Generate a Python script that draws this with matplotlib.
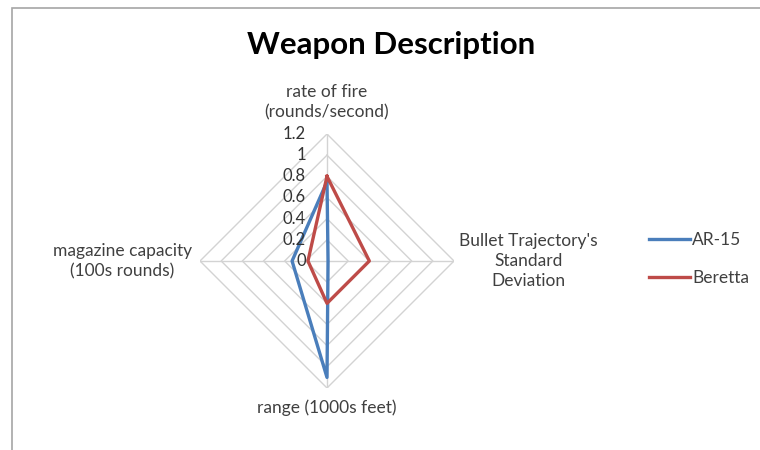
import numpy as np
import matplotlib
matplotlib.use("Agg")
import matplotlib.pyplot as plt
from matplotlib import transforms
from matplotlib.patches import Rectangle

plt.rcParams['font.family'] = ['Lato', 'DejaVu Sans']

# data
categories = ["rate of fire\n(rounds/second)",
              "Bullet Trajectory's\nStandard\nDeviation",
              "range (1000s feet)",
              "magazine capacity\n(100s rounds)"]
ar15 = [0.75, 0.01, 1.1, 0.33]
beretta = [0.8, 0.4, 0.4, 0.18]
ticks = [0, 0.2, 0.4, 0.6, 0.8, 1.0, 1.2]
tick_labels = ["0", "0.2", "0.4", "0.6", "0.8", "1", "1.2"]

fig = plt.figure(figsize=(7.6, 4.5), dpi=100)
fig.patches.append(Rectangle((12 / 760, -0.01), 760, (450 - 8) / 450 + 0.01,
                             transform=fig.transFigure, fill=False,
                             edgecolor='#a6a6a6', linewidth=1.2))

ax = fig.add_axes([(327 - 127) / 760, (450 - 261 - 127) / 450, 254 / 760, 254 / 450],
                  projection='polar')
ax.set_theta_zero_location('N')
ax.set_theta_direction(-1)
ax.set_ylim(0, 1.2)
ax.grid(False)
ax.set_xticks([])
ax.set_yticks([])
ax.spines['polar'].set_visible(False)
ax.patch.set_alpha(0)

n = len(categories)
angles = np.arange(n) * 2 * np.pi / n
closed = np.append(angles, angles[0])

grid_col = '#d3d3d3'
for r in ticks[1:]:
    ax.plot(closed, [r] * (n + 1), color=grid_col, lw=1.0, zorder=1)
for a in angles:
    ax.plot([a, a], [0, 1.2], color=grid_col, lw=1.0, zorder=1)

ax.plot(closed, ar15 + ar15[:1], color='#4a7ebb', lw=2.4, zorder=3, label='AR-15')
ax.plot(closed, beretta + beretta[:1], color='#be4b48', lw=2.4, zorder=3, label='Beretta')

# value labels along the vertical axis
off = transforms.offset_copy(ax.transData, fig=fig, x=-21, y=0, units='dots')
for t, lab in zip(ticks, tick_labels):
    ax.text(0, t, lab, transform=off, ha='right', va='center',
            fontsize=12, color='#333333', zorder=4)

# category labels
lab_pos = [(0, 14, 'center', 'bottom'),
           (5, 0, 'left', 'center'),
           (0, -11, 'center', 'top'),
           (-8, 0, 'right', 'center')]
for a, txt, (dx, dy, ha, va) in zip(angles, categories, lab_pos):
    tr = transforms.offset_copy(ax.transData, fig=fig, x=dx, y=dy, units='dots')
    ax.text(a, 1.2, txt, transform=tr, ha=ha, va=va, fontsize=12.5,
            color='#404040', multialignment='center', linespacing=1.33)

fig.text(391 / 760, 1 - 45 / 450, "Weapon Description", ha='center', va='center',
         fontsize=22.5, fontweight='bold', color='black')

fig.legend(loc='center left', bbox_to_anchor=(633 / 760, 1 - 259 / 450),
           frameon=False, fontsize=12.5, handlelength=2.4, handletextpad=0.1,
           labelspacing=1.25, labelcolor='#404040')

fig.savefig("out.png", dpi=100)
